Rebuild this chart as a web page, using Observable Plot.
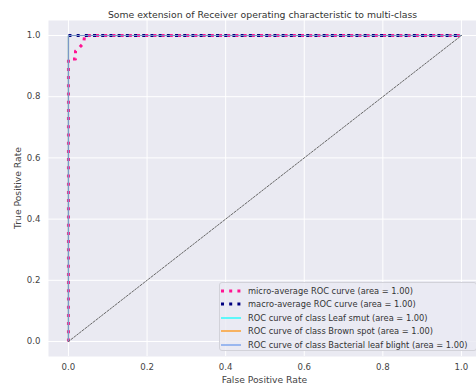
<!DOCTYPE html>
<html><head><meta charset="utf-8">
<script src="https://cdn.jsdelivr.net/npm/d3@7"></script>
<script src="https://cdn.jsdelivr.net/npm/@observablehq/plot@0.6"></script>
<style>
body{margin:0;background:#fff;}
#wrap{position:relative;width:476px;height:385px;overflow:hidden;font-family:"DejaVu Sans",sans-serif;}
#legend{position:absolute;left:219px;top:282px;width:258px;height:69px;box-sizing:border-box;border:1px solid #d2d2d9;border-radius:3px;background:rgba(234,234,242,0.8);font-size:9px;color:#333;}
#legend .row{position:absolute;left:0;height:13px;display:flex;align-items:center;white-space:nowrap;}
#legend svg{margin-left:1px;margin-right:7px;flex:none;}
</style></head>
<body><div id="wrap"><div id="chart"></div><div id="legend"></div></div>
<script>
const title = "Some extension of Receiver operating characteristic to multi-class";
const xLabel = "False Positive Rate";
const yLabel = "True Positive Rate";
const ticks = [0, 0.2, 0.4, 0.6, 0.8, 1.0];

const microFpr = [0, 0, 0.018, 0.018, 0.029, 0.039, 0.041, 1];
const microTpr = [0, 0.923, 0.923, 0.949, 0.962, 0.976, 1.0, 1.0];
const macroFpr = [0, 1];
const macroTpr = [1, 1];
const classNames = ["Leaf smut", "Brown spot", "Bacterial leaf blight"];
const classColors = ["aqua", "darkorange", "cornflowerblue"];
const classFpr = [[0, 0, 1], [0, 0, 1], [0, 0, 1]];
const classTpr = [[0, 1, 1], [0, 1, 1], [0, 1, 1]];
const classAuc = [1.00, 1.00, 1.00];
const microAuc = 1.00, macroAuc = 1.00;

const idx = a => a.map((_, i) => i);
const dotted = {strokeWidth: 3, strokeDasharray: "3,5.2", strokeLinecap: "butt"};
const marks = [
  Plot.frame({fill: "#EAEAF2", stroke: null}),
  Plot.gridX(ticks, {stroke: "white", strokeOpacity: 1, strokeWidth: 1}),
  Plot.gridY(ticks, {stroke: "white", strokeOpacity: 1, strokeWidth: 1}),
  Plot.line(idx(microFpr), {x: i => microFpr[i], y: i => microTpr[i], stroke: "deeppink", ...dotted}),
  Plot.line(idx(macroFpr), {x: i => macroFpr[i], y: i => macroTpr[i], stroke: "navy", ...dotted}),
];
classNames.forEach((n, k) => {
  marks.push(Plot.line(idx(classFpr[k]), {x: i => classFpr[k][i], y: i => classTpr[k][i], stroke: classColors[k], strokeWidth: 1.2, strokeOpacity: 0.8}));
});
marks.push(
  Plot.line([0, 1], {x: d => d, y: d => d, stroke: "#666", strokeWidth: 1, strokeDasharray: "2,1.5"}),
  Plot.axisX(ticks, {tickSize: 0, tickPadding: 7, tickFormat: d3.format(".1f"), fontSize: 8.6, fill: "#444", label: null}),
  Plot.axisY(ticks, {tickSize: 0, tickPadding: 8, tickFormat: d3.format(".1f"), fontSize: 8.6, fill: "#444", label: null}),
  Plot.text([title], {frameAnchor: "top", dy: -9, fontSize: 9.3, fill: "#333"}),
);

const chart = Plot.plot({
  width: 476, height: 385,
  marginLeft: 48, marginRight: 0, marginTop: 20, marginBottom: 29,
  x: {domain: [-0.05, 1.05], range: [48.3, 480.6]},
  y: {domain: [-0.05, 1.05], range: [356.3, 19.7]},
  style: {fontFamily: "DejaVu Sans, sans-serif", background: "white"},
  marks
});
document.getElementById("chart").appendChild(chart);

// axis labels
const svg = d3.select(chart);
svg.append("text").attr("x", 264.5).attr("y", 383).attr("text-anchor", "middle")
  .attr("font-size", 9.2).attr("fill", "#444").text(xLabel);
svg.append("text").attr("transform", "translate(21,188) rotate(-90)").attr("text-anchor", "middle")
  .attr("font-size", 9.2).attr("fill", "#444").text(yLabel);

// legend
const entries = [
  {label: `micro-average ROC curve (area = ${microAuc.toFixed(2)})`, color: "deeppink", dotted: true},
  {label: `macro-average ROC curve (area = ${macroAuc.toFixed(2)})`, color: "navy", dotted: true},
  ...classNames.map((n, k) => ({label: `ROC curve of class ${n} (area = ${classAuc[k].toFixed(2)})`, color: classColors[k], dotted: false}))
];
const leg = document.getElementById("legend");
const spans = [];
entries.forEach((e, i) => {
  const row = document.createElement("div");
  row.className = "row";
  row.style.top = (1.5 + i * 13.4) + "px";
  const dash = e.dotted ? `stroke-width="3" stroke-dasharray="3,5.2"` : `stroke-width="1.2"`;
  row.innerHTML = `<svg width="20" height="8"><line x1="0" x2="20" y1="4" y2="4" stroke="${e.color}" ${dash}/></svg><span>${e.label}</span>`;
  leg.appendChild(row);
  spans.push(row.querySelector("span"));
});
// fit longest label to ~220px
const w = Math.max(...spans.map(s => s.getBoundingClientRect().width));
const fs = Math.min(9.6, 9 * 220 / w);
leg.style.fontSize = fs + "px";
</script></body></html>
